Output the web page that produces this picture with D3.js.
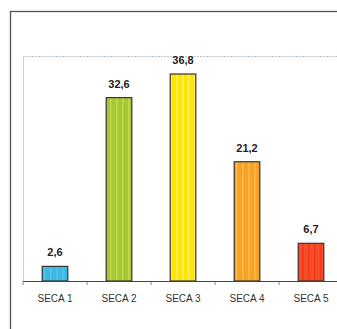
<!DOCTYPE html>
<html><head><meta charset="utf-8">
<script src="https://cdn.jsdelivr.net/npm/d3@7"></script>
<style>html,body{margin:0;padding:0;background:#fff;}svg{display:block;}</style>
</head><body>
<svg id="chart" width="337" height="329"></svg>
<script>
const categories = ["SECA 1", "SECA 2", "SECA 3", "SECA 4", "SECA 5"];
const values = [2.6, 32.6, 36.8, 21.2, 6.7];
const valueLabels = ["2,6", "32,6", "36,8", "21,2", "6,7"];
const barColors = ["#3cb8e2", "#a6c832", "#ffe600", "#f7a323", "#ef5228"];
const stripeColors = ["#58c6ea", "#c8dc5a", "#fff27a", "#fbbd55", "#ff2a1a"];

const svg = d3.select("#chart");
const defs = svg.append("defs");
barColors.forEach((c, i) => {
  const p = defs.append("pattern").attr("id", "pat" + i)
    .attr("patternUnits", "userSpaceOnUse").attr("width", 6).attr("height", 6);
  p.append("rect").attr("width", 6).attr("height", 6).attr("fill", c);
  p.append("rect").attr("x", 2).attr("width", 1.5).attr("height", 6).attr("fill", stripeColors[i]).attr("opacity", 0.8);
});

// outer frame
svg.append("rect").attr("x", 10.5).attr("y", 11.5).attr("width", 400).attr("height", 400)
  .attr("fill", "none").attr("stroke", "#555").attr("stroke-width", 1.3);

const x = d3.scaleBand().domain(categories).range([23, 343]).paddingInner(0.6).paddingOuter(0.3);
const y = d3.scaleLinear().domain([0, 40]).range([281, 56]);

// plot area borders
svg.append("line").attr("x1", 23).attr("x2", 337).attr("y1", 56.5).attr("y2", 56.5)
  .attr("stroke", "#b5c2cc").attr("stroke-width", 1).attr("stroke-dasharray", "2,1");
svg.append("line").attr("x1", 23.5).attr("x2", 23.5).attr("y1", 56).attr("y2", 281)
  .attr("stroke", "#c5d4e0").attr("stroke-width", 1);

// bars
svg.selectAll("rect.bar").data(values).enter().append("rect").attr("class", "bar")
  .attr("x", (d, i) => x(categories[i]))
  .attr("y", d => y(d))
  .attr("width", x.bandwidth())
  .attr("height", d => y(0) - y(d))
  .attr("fill", (d, i) => "url(#pat" + i + ")")
  .attr("stroke", "#333").attr("stroke-width", 1.2);

// value labels
svg.selectAll("text.val").data(values).enter().append("text").attr("class", "val")
  .attr("x", (d, i) => x(categories[i]) + x.bandwidth() / 2)
  .attr("y", d => y(d) - 10)
  .attr("text-anchor", "middle")
  .attr("font-family", "Liberation Sans, Arial, sans-serif")
  .attr("font-size", 11).attr("font-weight", "bold").attr("fill", "#222")
  .text((d, i) => valueLabels[i]);

// x axis
const axis = d3.axisBottom(x).tickSize(0).tickPadding(14);
const g = svg.append("g").attr("transform", "translate(0,281)").call(axis);
g.select(".domain").remove();
g.selectAll("text").attr("font-family", "Liberation Sans, Arial, sans-serif")
  .attr("font-size", 10).attr("fill", "#333");
svg.append("line").attr("x1", 23).attr("x2", 337).attr("y1", 281.5).attr("y2", 281.5)
  .attr("stroke", "#444").attr("stroke-width", 1.2);
// boundary ticks
const bounds = categories.map(c => x(c) - x.step() * x.paddingOuter());
svg.selectAll("line.bt").data(bounds).enter().append("line").attr("class", "bt")
  .attr("x1", d => d).attr("x2", d => d).attr("y1", 282).attr("y2", 285)
  .attr("stroke", "#888").attr("stroke-width", 1);
</script>
</body></html>
